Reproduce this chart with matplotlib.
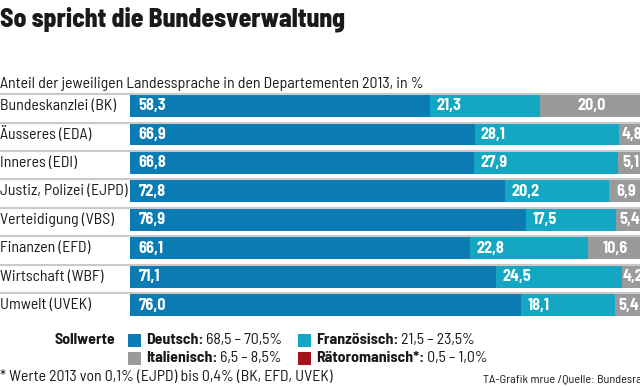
import matplotlib.pyplot as plt
from matplotlib.lines import Line2D

departements = ["Bundeskanzlei (BK)", "Äusseres (EDA)", "Inneres (EDI)", "Justiz, Polizei (EJPD)",
                "Verteidigung (VBS)", "Finanzen (EFD)", "Wirtschaft (WBF)", "Umwelt (UVEK)"]
deutsch = [58.3, 66.9, 66.8, 72.8, 76.9, 66.1, 71.1, 76.0]
franzoesisch = [21.3, 28.1, 27.9, 20.2, 17.5, 22.8, 24.5, 18.1]
italienisch = [20.0, 4.8, 5.1, 6.9, 5.4, 10.6, 4.2, 5.4]
raetoromanisch = [0.4, 0.2, 0.2, 0.1, 0.2, 0.4, 0.2, 0.4]

sollwerte = [("Deutsch:", "68,5\u2009–\u200970,5%"), ("Französisch:", "21,5\u2009–\u200923,5%"),
             ("Italienisch:", "6,5\u2009–\u20098,5%"), ("Rätoromanisch*:", "0,5\u2009–\u20091,0%")]

C_DE = "#0b7bb3"
C_FR = "#13a7c3"
C_IT = "#9a9a9c"
C_RM = "#a3121a"
FONT = ["Barlow Semi Condensed", "DejaVu Sans"]
TXT = "#1a1a1a"
FS = 11.4

W, H = 640, 386
fig = plt.figure(figsize=(W / 100, H / 100), dpi=100)

# bars area: x from 130 px, 5.15 px per percent; rows centred 106 .. 305 px
row_h = 28.43
y0 = 106
top = y0 - row_h / 2
bot = y0 + 7 * row_h + row_h / 2
ax = fig.add_axes([130 / W, 1 - bot / H, 515 / W, (bot - top) / H])
ax.set_xlim(0, 100)
ax.set_ylim(len(departements) - 0.5, -0.5)
ax.axis("off")

ys = list(range(len(departements)))
bh = 22 / row_h
left = [0.0] * len(ys)
for vals, col in [(deutsch, C_DE), (franzoesisch, C_FR), (italienisch, C_IT), (raetoromanisch, C_RM)]:
    ax.barh(ys, vals, left=left, height=bh, color=col, linewidth=0, clip_on=False)
    left = [l + v for l, v in zip(left, vals)]


def fmt(v):
    return f"{v:.1f}".replace(".", ",")


for i, y in enumerate(ys):
    ax.text(1.7, y, fmt(deutsch[i]), color="white", fontsize=FS + 0.3, fontweight="bold",
            family=FONT, va="center", ha="left")
    ax.text(deutsch[i] + 1.2, y, fmt(franzoesisch[i]), color="white", fontsize=FS + 0.3,
            fontweight="bold", family=FONT, va="center", ha="left")
    xi = deutsch[i] + franzoesisch[i] + italienisch[i] / 2
    ax.text(xi, y, fmt(italienisch[i]), color="white", fontsize=FS + 0.3, fontweight="bold",
            family=FONT, va="center", ha="center", clip_on=False)
    # department label
    fig.text(0, 1 - (y0 + i * row_h) / H, departements[i], fontsize=FS, family=FONT,
             va="center", ha="left", color=TXT)
    # separator line above each row
    yl = 1 - (y0 + i * row_h - 11.8) / H
    fig.add_artist(Line2D([0, 1], [yl, yl], color="#c9c9c9", linewidth=1.5))

fig.text(0, 1 - 19 / H, "So spricht die Bundesverwaltung", fontsize=18.4, fontweight=800,
         family=FONT, va="center", ha="left", color=TXT)
fig.text(0, 1 - 84 / H, "Anteil der jeweiligen Landessprache in den Departementen 2013, in %",
         fontsize=FS, family=FONT, va="center", ha="left", color=TXT)

# legend
ov = fig.add_axes([0, 0, 1, 1])
ov.set_xlim(0, W)
ov.set_ylim(H, 0)
ov.axis("off")
ov.text(115, 340, "Sollwerte", fontsize=FS, fontweight="bold", family=FONT,
        va="center", ha="right", color=TXT)
leg_pos = [(128, 340), (298, 340), (128, 358), (298, 358)]
leg_col = [C_DE, C_FR, C_IT, C_RM]
for (bold, rng), (lx, ly), col in zip(sollwerte, leg_pos, leg_col):
    ov.add_patch(plt.Rectangle((lx, ly - 6.5), 13, 13, color=col, linewidth=0))
    t = ov.text(lx + 18, ly, bold, fontsize=FS, fontweight="bold", family=FONT,
                va="center", ha="left", color=TXT)
    ov.annotate(" " + rng, xy=(1, 0.5), xycoords=t, va="center", ha="left",
                fontsize=FS, family=FONT, color=TXT)

ov.text(0, 377, "* Werte 2013 von 0,1% (EJPD) bis 0,4% (BK, EFD, UVEK)", fontsize=FS,
        family=FONT, va="center", ha="left", color=TXT)
ov.text(483, 379, "TA-Grafik mrue /Quelle: Bundesrat", fontsize=8.8, family=FONT,
        va="center", ha="left", color=TXT)

plt.savefig("out.png", dpi=100)
